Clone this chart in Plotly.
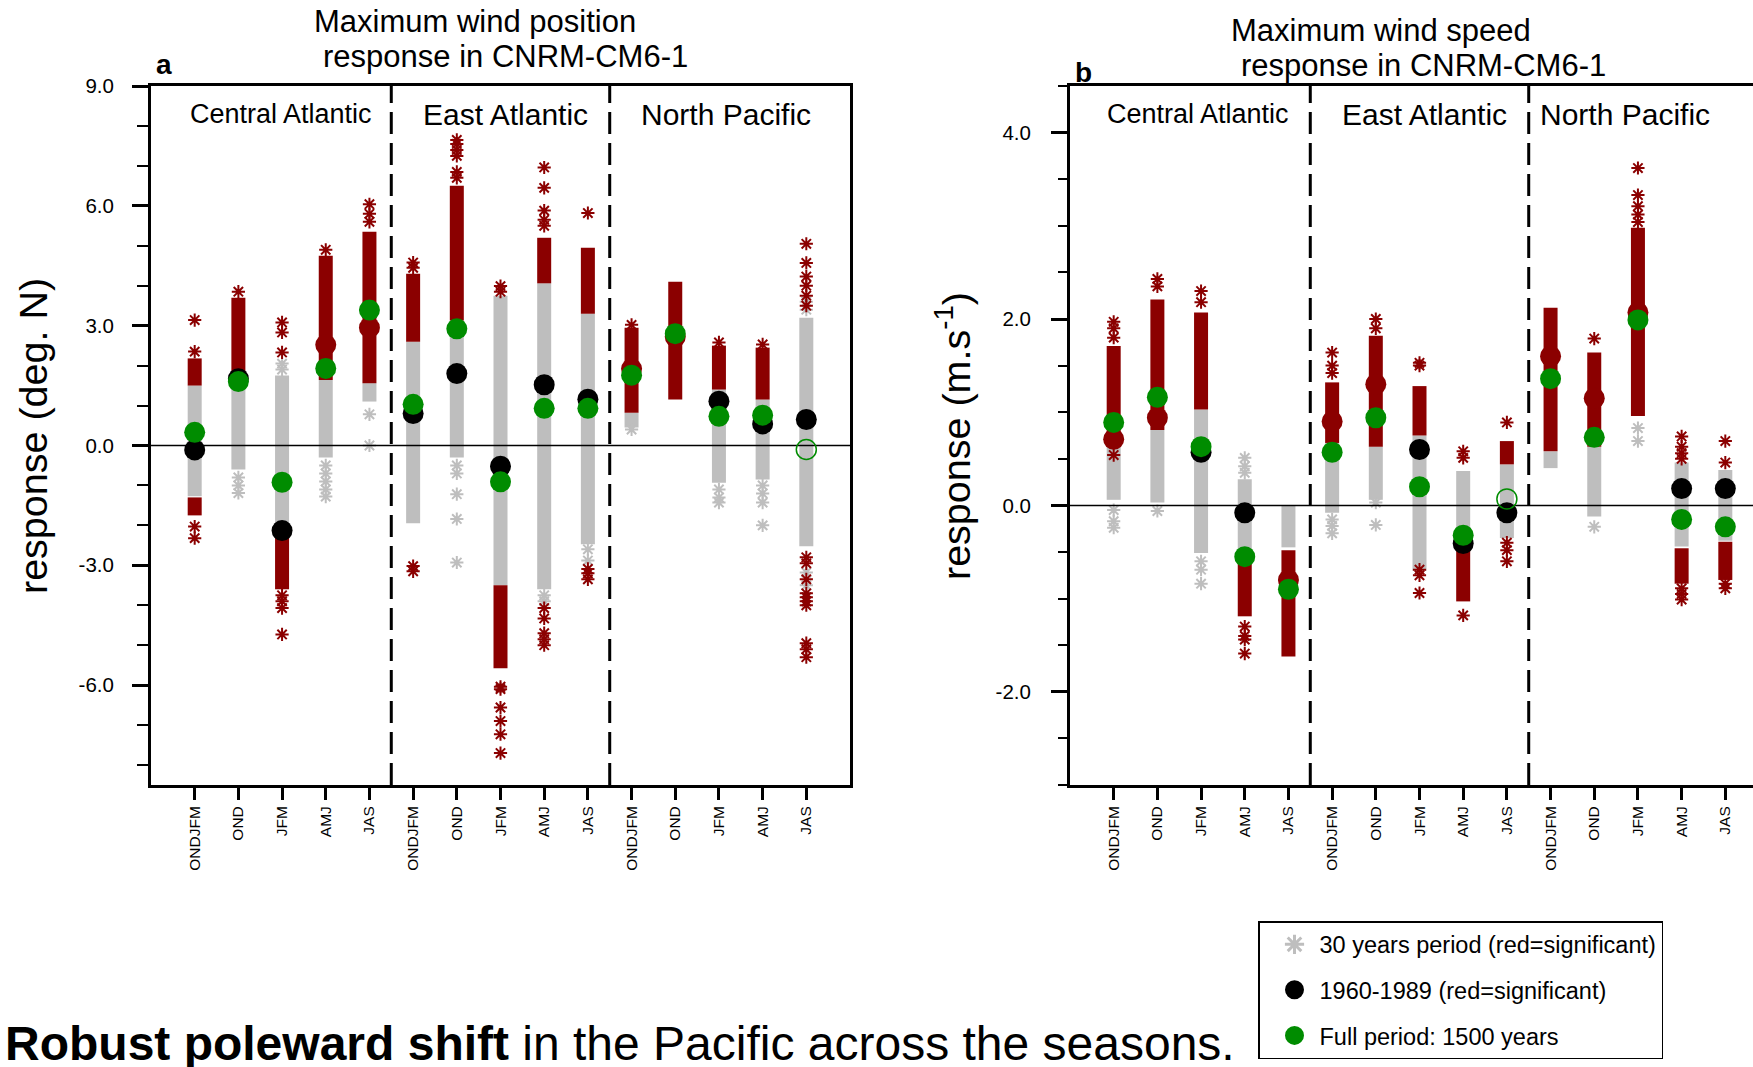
import plotly.graph_objects as go

W, H = 1753, 1067

seasons = ["ONDJFM", "OND", "JFM", "AMJ", "JAS"]
regions = ["Central Atlantic", "East Atlantic", "North Pacific"]
categories = seasons * 3
xpos = list(range(1, len(categories) + 1))

# ---------------- Panel a: maximum wind position response (deg. N) ----------------
pos_gray_lo = [-1.27, -0.6, -2.1, -0.3, 1.1, -1.95, -0.3, -3.5, -3.6, -2.47, 0.45, None, -0.93, -0.85, -2.52]
pos_gray_hi = [1.5, 1.72, 1.75, 1.64, 1.56, 2.6, 3.13, 3.75, 4.06, 3.3, 0.82, None, 1.4, 1.15, 3.2]
pos_red_up_lo = [1.5, 1.72, None, 1.64, 1.56, 2.6, 3.13, None, 4.06, 3.3, 0.82, 1.15, 1.4, 1.15, None]
pos_red_up_hi = [2.18, 3.7, None, 4.75, 5.35, 4.3, 6.5, None, 5.2, 4.95, 2.95, 4.1, 2.5, 2.45, None]
pos_red_dn_hi = [-1.3, None, -2.3, None, None, None, None, -3.5, None, None, None, None, None, None, None]
pos_red_dn_lo = [-1.75, None, -3.6, None, None, None, None, -5.58, None, None, None, None, None, None, None]
pos_red_out = [
    [2.35, 3.14, -2.03, -2.32],
    [3.85],
    [2.33, 2.83, 3.08, -3.75, -3.9, -4.07, -4.73],
    [4.9],
    [5.6, 5.8, 6.04],
    [4.45, 4.58, -3.02, -3.15],
    [6.7, 6.85, 7.25, 7.4, 7.55, 7.65],
    [3.85, 3.99, -6.04, -6.1, -6.56, -6.9, -7.23, -7.7],
    [5.5, 5.65, 5.88, 6.45, 6.96, -4.07, -4.33, -4.7, -4.85, -5.0],
    [5.82, -3.09, -3.2, -3.35],
    [3.02],
    [],
    [2.58],
    [2.53],
    [3.5, 3.75, 4.0, 4.23, 4.57, 5.05, -2.8, -2.95, -3.35, -3.7, -3.8, -3.9, -4.0, -4.95, -5.1, -5.3],
]
pos_gray_out = [
    [],
    [-0.8, -1.0, -1.19],
    [1.9, 2.05],
    [-0.5, -0.7, -0.9, -1.1, -1.28],
    [0.78, 0.0],
    [],
    [-0.5, -0.7, -1.22, -1.84, -2.93],
    [],
    [-3.75, -3.9],
    [-2.6, -2.88],
    [0.4],
    [],
    [-1.1, -1.3, -1.43],
    [-1.0, -1.2, -1.43, -2.0],
    [-3.18, -3.5, 3.4, 3.6],
]
pos_p1960 = [-0.11, 1.67, -2.13, 2.52, 2.95, 0.8, 1.8, -0.52, 1.52, 1.16, 1.92, 2.72, 1.11, 0.54, 0.65]
pos_p1960_sig = [0, 0, 0, 1, 1, 0, 0, 0, 0, 0, 1, 1, 0, 0, 0]
pos_full = [0.33, 1.6, -0.92, 1.93, 3.39, 1.03, 2.92, -0.91, 0.93, 0.93, 1.76, 2.8, 0.73, 0.76, -0.1]
pos_full_sig = [1, 1, 1, 1, 1, 1, 1, 1, 1, 1, 1, 1, 1, 1, 0]

# ---------------- Panel b: maximum wind speed response (m/s) ----------------
spd_gray_lo = [0.06, 0.03, -0.51, -0.55, -0.45, -0.08, 0.06, -0.7, -0.46, -0.35, 0.4, -0.12, None, -0.44, -0.38]
spd_gray_hi = [0.63, 0.81, 1.03, 0.28, 0.0, 0.67, 0.63, 0.75, 0.37, 0.44, 0.58, 0.63, None, 0.46, 0.38]
spd_red_up_lo = [0.63, 0.81, 1.03, None, None, 0.67, 0.63, 0.75, None, 0.44, 0.58, 0.63, 0.96, None, None]
spd_red_up_hi = [1.71, 2.21, 2.07, None, None, 1.32, 1.82, 1.28, None, 0.69, 2.12, 1.64, 2.98, None, None]
spd_red_dn_hi = [None, None, None, -0.58, -0.48, None, None, None, -0.48, None, None, None, None, -0.46, -0.39]
spd_red_dn_lo = [None, None, None, -1.19, -1.62, None, None, None, -1.03, None, None, None, None, -0.84, -0.8]
spd_red_out = [
    [0.54, 1.8, 1.9, 1.97],
    [2.35, 2.43],
    [2.18, 2.3],
    [-1.3, -1.4, -1.44, -1.59],
    [],
    [1.42, 1.5, 1.64],
    [1.9, 2.0],
    [1.5, 1.53, -0.69, -0.75, -0.94],
    [0.51, 0.58, -1.18],
    [0.89, -0.4, -0.48, -0.6],
    [],
    [1.79],
    [3.04, 3.12, 3.21, 3.33, 3.62],
    [0.5, 0.56, 0.63, 0.74, -0.89, -0.95, -1.01],
    [0.46, 0.69, -0.84, -0.89],
]
spd_gray_out = [
    [-0.05, -0.17, -0.24],
    [-0.06],
    [-0.6, -0.69, -0.84],
    [0.35, 0.42, 0.51],
    [],
    [-0.15, -0.22, -0.3],
    [0.03, -0.21],
    [],
    [],
    [],
    [],
    [-0.23],
    [0.69, 0.83],
    [],
    [],
]
spd_p1960 = [0.71, 0.94, 0.57, -0.08, -0.8, 0.9, 1.3, 0.6, -0.41, -0.08, 1.6, 1.15, 2.07, 0.18, 0.18]
spd_p1960_sig = [1, 1, 0, 0, 1, 1, 1, 0, 0, 0, 1, 1, 1, 0, 0]
spd_full = [0.89, 1.16, 0.63, -0.55, -0.9, 0.57, 0.94, 0.2, -0.32, 0.07, 1.36, 0.73, 1.99, -0.15, -0.23]
spd_full_sig = [1, 1, 1, 1, 1, 1, 1, 1, 1, 0, 1, 1, 1, 1, 1]

pos_yticks = [-6, -3, 0, 3, 6, 9]
pos_minor = [-8, -7, -5, -4, -2, -1, 1, 2, 4, 5, 7, 8]
spd_yticks = [-2, 0, 2, 4]
spd_minor = [-3, -2.5, -1.5, -1, -0.5, 0.5, 1, 1.5, 2.5, 3, 3.5, 4.5]

GRAY = "#BEBEBE"
RED = "#8B0000"
GREEN = "#008C00"
FONT = "Liberation Sans, Arial, Helvetica, sans-serif"

fig = go.Figure()


def seg(lo, hi):
    xs, ys = [], []
    for x, a, b in zip(xpos, lo, hi):
        if a is None or b is None:
            continue
        xs += [x, x, None]
        ys += [a, b, None]
    return xs, ys


def flat(lists):
    xs, ys = [], []
    for x, vals in zip(xpos, lists):
        for v in vals:
            xs.append(x)
            ys.append(v)
    return xs, ys


def add_panel(xa, ya, gray_lo, gray_hi, rul, ruh, rdh, rdl, red_out, gray_out,
              p60, p60_sig, full, full_sig, xmax):
    bw = 14
    x, y = seg(gray_lo, gray_hi)
    fig.add_trace(go.Scatter(x=x, y=y, mode="lines", line=dict(color=GRAY, width=bw),
                             xaxis=xa, yaxis=ya, showlegend=False, hoverinfo="skip"))
    x, y = flat(gray_out)
    fig.add_trace(go.Scatter(x=x, y=y, mode="markers",
                             marker=dict(symbol="asterisk-open", size=11, color=GRAY,
                                         line=dict(color=GRAY, width=2)),
                             xaxis=xa, yaxis=ya, showlegend=False, hoverinfo="skip"))
    x1, y1 = seg(rul, ruh)
    x2, y2 = seg(rdl, rdh)
    fig.add_trace(go.Scatter(x=x1 + x2, y=y1 + y2, mode="lines", line=dict(color=RED, width=bw),
                             xaxis=xa, yaxis=ya, showlegend=False, hoverinfo="skip"))
    x, y = flat(red_out)
    fig.add_trace(go.Scatter(x=x, y=y, mode="markers",
                             marker=dict(symbol="asterisk-open", size=11, color=RED,
                                         line=dict(color=RED, width=2)),
                             xaxis=xa, yaxis=ya, showlegend=False, hoverinfo="skip"))
    # zero reference line
    fig.add_trace(go.Scatter(x=[0, xmax], y=[0, 0], mode="lines", line=dict(color="black", width=1.5),
                             xaxis=xa, yaxis=ya, showlegend=False, hoverinfo="skip"))
    # 1960-1989 dots
    for sig, col in ((0, "black"), (1, RED)):
        xs = [x for x, s in zip(xpos, p60_sig) if s == sig]
        ys = [v for v, s in zip(p60, p60_sig) if s == sig]
        fig.add_trace(go.Scatter(x=xs, y=ys, mode="markers",
                                 marker=dict(symbol="circle", size=21, color=col, line=dict(width=0)),
                                 xaxis=xa, yaxis=ya, showlegend=False, hoverinfo="skip"))
    # full period dots
    xs = [x for x, s in zip(xpos, full_sig) if s == 1]
    ys = [v for v, s in zip(full, full_sig) if s == 1]
    fig.add_trace(go.Scatter(x=xs, y=ys, mode="markers",
                             marker=dict(symbol="circle", size=21, color=GREEN, line=dict(width=0)),
                             xaxis=xa, yaxis=ya, showlegend=False, hoverinfo="skip"))
    xs = [x for x, s in zip(xpos, full_sig) if s == 0]
    ys = [v for v, s in zip(full, full_sig) if s == 0]
    fig.add_trace(go.Scatter(x=xs, y=ys, mode="markers",
                             marker=dict(symbol="circle-open", size=20, color=GREEN,
                                         line=dict(color=GREEN, width=1.5)),
                             xaxis=xa, yaxis=ya, showlegend=False, hoverinfo="skip"))


UNIT = (850 - 151) / 16.0
XMAX_A = 16
XMAX_B = (W - 1070) / UNIT

add_panel("x", "y", pos_gray_lo, pos_gray_hi, pos_red_up_lo, pos_red_up_hi, pos_red_dn_hi, pos_red_dn_lo,
          pos_red_out, pos_gray_out, pos_p1960, pos_p1960_sig, pos_full, pos_full_sig, XMAX_A)
add_panel("x2", "y2", spd_gray_lo, spd_gray_hi, spd_red_up_lo, spd_red_up_hi, spd_red_dn_hi, spd_red_dn_lo,
          spd_red_out, spd_gray_out, spd_p1960, spd_p1960_sig, spd_full, spd_full_sig, XMAX_B)

# legend entries
legend_items = [
    ("30 years period (red=significant)", "asterisk-open", GRAY),
    ("1960-1989 (red=significant)", "circle", "black"),
    ("Full period: 1500 years", "circle", GREEN),
]
for i, (name, sym, col) in enumerate(legend_items):
    fig.add_trace(go.Scatter(x=[None], y=[None], mode="markers", name=name, legendgroup="g%d" % i,
                             marker=dict(symbol=sym, size=20, color=col, line=dict(color=col, width=3)),
                             xaxis="x", yaxis="y", showlegend=True))


def px(x):
    return x / W


def py(y):
    return 1 - y / H


ydom = [py(785), py(86)]
common_x = dict(showgrid=False, zeroline=False, showline=True, linewidth=3, linecolor="black",
                mirror=True, ticks="outside", ticklen=12, tickwidth=3, tickcolor="black",
                tickmode="array", tickvals=xpos, ticktext=categories, tickangle=-90,
                tickfont=dict(family=FONT, size=15.5, color="black"), fixedrange=True,
                automargin=False)
fig.update_layout(
    width=W, height=H,
    margin=dict(l=0, r=0, t=0, b=0, pad=0, autoexpand=False),
    paper_bgcolor="white", plot_bgcolor="white",
    xaxis=dict(domain=[px(151), px(850)], range=[0, XMAX_A], anchor="y", **common_x),
    yaxis=dict(domain=ydom, range=[-8.5, 9.0], anchor="x", showgrid=False, zeroline=False,
               showline=True, linewidth=3, linecolor="black", mirror=True, automargin=False,
               ticks="outside", ticklen=16, tickwidth=2.5, tickcolor="black",
               tickmode="array", tickvals=pos_yticks, ticktext=["%.1f" % v for v in pos_yticks],
               ticklabelstandoff=14,
               tickfont=dict(family=FONT, size=20.5, color="black"),
               minor=dict(tickmode="array", tickvals=pos_minor, ticks="outside", ticklen=11,
                          tickwidth=1.5, tickcolor="black", showgrid=False)),
    xaxis2=dict(domain=[px(1070), 1.0], range=[0, XMAX_B], anchor="y2", **common_x),
    yaxis2=dict(domain=ydom, range=[-3.0, 4.5], anchor="x2", showgrid=False, zeroline=False,
                showline=True, linewidth=3, linecolor="black", mirror=False, automargin=False,
                ticks="outside", ticklen=16, tickwidth=3, tickcolor="black",
                tickmode="array", tickvals=spd_yticks, ticktext=["%.1f" % v for v in spd_yticks],
                ticklabelstandoff=16,
                tickfont=dict(family=FONT, size=20.5, color="black"),
                minor=dict(tickmode="array", tickvals=spd_minor, ticks="outside", ticklen=9,
                           tickwidth=1.5, tickcolor="black", showgrid=False)),
    showlegend=True,
    legend=dict(x=px(1258), y=py(921), xanchor="left", yanchor="top",
                bordercolor="black", borderwidth=1.5, bgcolor="white",
                font=dict(family=FONT, size=23.5, color="black"),
                tracegroupgap=12, itemsizing="trace", traceorder="grouped",
                itemwidth=40, indentation=10),
)

# dashed separators between regions
nseas = len(seasons)
for xa in ("x", "x2"):
    for k in (1, 2):
        xv = k * nseas + 0.5
        fig.add_shape(type="line", xref=xa, yref=("y domain" if xa == "x" else "y2 domain"),
                      x0=xv, x1=xv, y0=0, y1=1,
                      line=dict(color="black", width=3, dash="22px,9px"), layer="above")

ann = []


def text(x, y, s, size, bold=False, angle=0, xanchor="center"):
    ann.append(dict(x=px(x), y=py(y), xref="paper", yref="paper", text=("<b>%s</b>" % s if bold else s),
                    showarrow=False, xanchor=xanchor, yanchor="middle", textangle=angle,
                    font=dict(family=FONT, size=size, color="black")))


text(475, 21, "Maximum wind position", 31)
text(505, 56, "response in CNRM-CM6-1", 31)
text(1381, 30, "Maximum wind speed", 31)
text(1423, 65, "response in CNRM-CM6-1", 31)
text(164, 64, "a", 28, bold=True)
text(1083, 72, "b", 28, bold=True)

label_px_a = [281, 505, 726]
label_px_b = [1198, 1424, 1625]
label_size = [27, 30, 30]
for r, xa, xb, sz in zip(regions, label_px_a, label_px_b, label_size):
    text(xa, 114, r, sz)
    text(xb, 114, r, sz)

text(33, 436, "response (deg. N)", 39.5, angle=-90)
text(953, 436, "response (m.s<sup>-1</sup>)", 39.5, angle=-90)

ann.append(dict(x=px(3), y=py(1043), xref="paper", yref="paper",
                text="<b>Robust poleward shift</b> in the Pacific across the seasons.",
                showarrow=False, xanchor="left", yanchor="middle",
                font=dict(family=FONT, size=48, color="black")))

fig.update_layout(annotations=ann)
fig.write_html("out.html", config={"displayModeBar": False},
               post_script="document.body.style.margin='0px';document.body.style.overflow='hidden';")
